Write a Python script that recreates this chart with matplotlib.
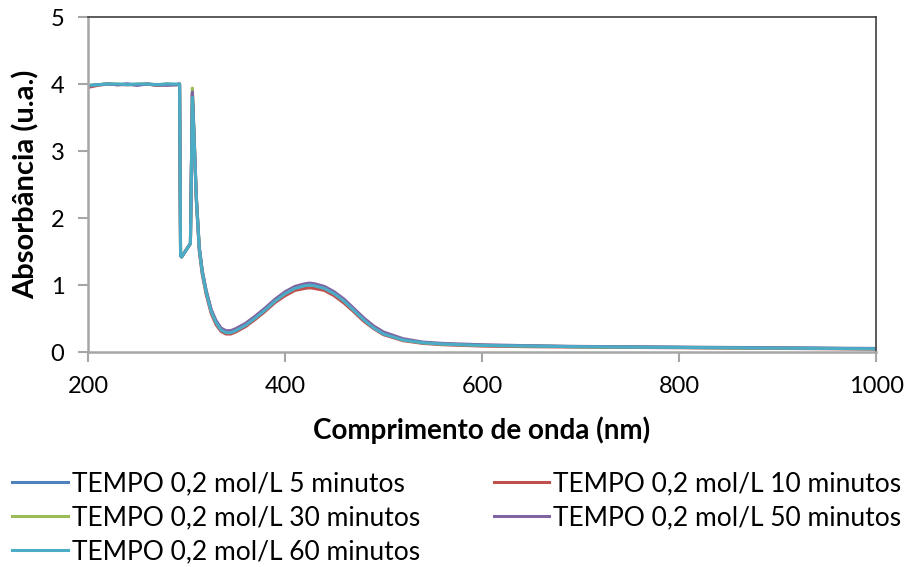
import matplotlib.pyplot as plt

plt.rcParams['font.family'] = ['Lato', 'DejaVu Sans']

wl = [200, 210, 220, 230, 240, 250, 260, 270, 280, 290, 293, 294, 295, 304, 306,
      308, 310, 313, 316, 320, 325, 330, 335, 340, 345, 350, 360, 370, 380, 390,
      400, 410, 420, 425, 430, 440, 450, 460, 470, 480, 490, 500, 520, 540, 560,
      580, 600, 650, 700, 750, 800, 850, 900, 950, 1000]

a5 = [3.97, 3.99, 4.00, 3.99, 4.00, 3.99, 4.00, 3.98, 4.00, 3.99, 4.00, 1.44, 1.42, 1.62, 3.86,
      3.10, 2.30, 1.55, 1.20, 0.90, 0.62, 0.45, 0.34, 0.30, 0.30, 0.33, 0.41, 0.52, 0.64, 0.77,
      0.88, 0.96, 1.00, 1.01, 1.00, 0.96, 0.88, 0.77, 0.63, 0.49, 0.37, 0.28, 0.18, 0.14, 0.12,
      0.11, 0.10, 0.09, 0.08, 0.075, 0.07, 0.065, 0.06, 0.055, 0.05]
a10 = [3.95, 3.98, 4.00, 3.99, 3.99, 3.99, 4.00, 3.98, 3.99, 3.99, 4.00, 1.44, 1.42, 1.62, 3.84,
       3.05, 2.25, 1.50, 1.16, 0.86, 0.58, 0.41, 0.31, 0.27, 0.27, 0.30, 0.38, 0.49, 0.61, 0.74,
       0.84, 0.92, 0.95, 0.96, 0.95, 0.92, 0.84, 0.73, 0.60, 0.46, 0.35, 0.26, 0.17, 0.13, 0.11,
       0.10, 0.09, 0.08, 0.075, 0.07, 0.065, 0.06, 0.055, 0.05, 0.045]
a30 = [3.98, 3.99, 4.00, 4.00, 3.99, 4.00, 4.00, 3.99, 4.00, 3.99, 4.00, 1.44, 1.42, 1.62, 3.94,
       3.15, 2.33, 1.56, 1.21, 0.91, 0.63, 0.45, 0.34, 0.30, 0.30, 0.33, 0.41, 0.52, 0.64, 0.77,
       0.88, 0.96, 1.00, 1.01, 1.00, 0.96, 0.88, 0.77, 0.63, 0.49, 0.37, 0.28, 0.18, 0.14, 0.12,
       0.11, 0.10, 0.09, 0.08, 0.075, 0.07, 0.065, 0.06, 0.055, 0.05]
a50 = [3.97, 3.99, 4.00, 3.99, 4.00, 3.98, 4.00, 3.99, 3.98, 3.99, 4.00, 1.44, 1.42, 1.62, 3.88,
       3.12, 2.32, 1.57, 1.22, 0.92, 0.64, 0.47, 0.36, 0.32, 0.32, 0.35, 0.43, 0.54, 0.66, 0.79,
       0.90, 0.98, 1.02, 1.03, 1.02, 0.98, 0.90, 0.79, 0.65, 0.51, 0.39, 0.30, 0.20, 0.15, 0.13,
       0.12, 0.11, 0.095, 0.085, 0.08, 0.075, 0.07, 0.065, 0.06, 0.055]
a60 = [3.98, 3.99, 4.00, 4.00, 3.99, 4.00, 4.00, 3.99, 4.00, 4.00, 4.00, 1.44, 1.42, 1.62, 3.80,
       3.08, 2.29, 1.54, 1.19, 0.89, 0.61, 0.44, 0.33, 0.29, 0.29, 0.32, 0.40, 0.51, 0.63, 0.76,
       0.87, 0.95, 0.99, 1.00, 0.99, 0.95, 0.87, 0.76, 0.62, 0.48, 0.36, 0.27, 0.18, 0.14, 0.12,
       0.11, 0.10, 0.09, 0.08, 0.075, 0.07, 0.065, 0.06, 0.055, 0.05]

series = [a5, a10, a30, a50, a60]
labels = ['TEMPO 0,2 mol/L 5 minutos', 'TEMPO 0,2 mol/L 10 minutos',
          'TEMPO 0,2 mol/L 30 minutos', 'TEMPO 0,2 mol/L 50 minutos',
          'TEMPO 0,2 mol/L 60 minutos']
colors = ['#4F81BD', '#C0504D', '#9BBB59', '#8064A2', '#4BACC6']

fig = plt.figure(figsize=(9.05, 5.67), dpi=100)
ax = fig.add_axes([0.0972, 0.379, 0.8708, 0.591])

handles = []
for y, lab, c in zip(series, labels, colors):
    h, = ax.plot(wl, y, color=c, lw=2.2, label=lab)
    handles.append(h)

ax.set_xlim(200, 1000)
ax.set_ylim(0, 5)
ax.set_xticks([200, 400, 600, 800, 1000])
ax.set_yticks([0, 1, 2, 3, 4, 5])
for side in ['left', 'bottom']:
    ax.spines[side].set_color('#A6A6A6')
    ax.spines[side].set_linewidth(1.8)
for side in ['top', 'right']:
    ax.spines[side].set_color('#404040')
    ax.spines[side].set_linewidth(1.2)
ax.tick_params(direction='out', length=7, width=1.5, color='#A6A6A6',
               labelsize=17, pad=10)
ax.set_xlabel('Comprimento de onda (nm)', fontsize=20, fontweight='bold', labelpad=14)
ax.set_ylabel('Absorbância (u.a.)', fontsize=21, fontweight='bold', labelpad=8)

# row-wise ordering like the original legend
order = [0, 2, 4, 1, 3]
fig.legend([handles[i] for i in order], [labels[i] for i in order],
           loc='upper left', bbox_to_anchor=(0.0077, 0.178), ncol=2,
           frameon=False, fontsize=19, handlelength=2.1, handletextpad=0.15,
           columnspacing=2.8, labelspacing=0.34, borderpad=0.2, borderaxespad=0)

fig.savefig('out.png', dpi=100)
